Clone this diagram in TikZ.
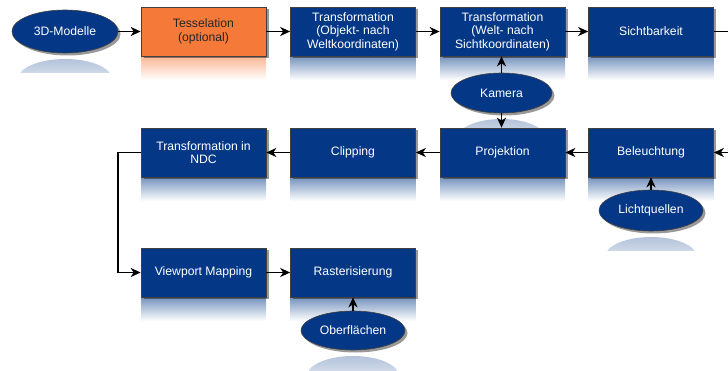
\documentclass[tikz,border=0pt]{standalone}
\usepackage{fontspec}
\setmainfont{Liberation Sans}
\usetikzlibrary{arrows.meta,shadows,shapes.geometric}
\definecolor{boxblue}{RGB}{4,56,135}
\definecolor{boxorange}{RGB}{245,122,58}
\tikzset{
  stepbox/.style={rectangle, draw=black!75, line width=0.6pt, fill=boxblue,
    text=white, minimum width=125pt, minimum height=49pt, inner sep=1pt,
    align=center, font=\fontsize{12.2}{13.5}\selectfont,
    drop shadow={shadow xshift=2.5pt, shadow yshift=-2.5pt, opacity=0.4, fill=black}},
  orangebox/.style={stepbox, fill=boxorange, text=black!85},
  inputell/.style={ellipse, draw=black!75, line width=0.6pt, fill=boxblue,
    text=white, inner sep=0pt, font=\fontsize{12.2}{13.5}\selectfont,
    drop shadow={shadow xshift=2.5pt, shadow yshift=-2.5pt, opacity=0.4, fill=black}},
  flow/.style={draw=black, line width=1.9pt, -{Stealth[length=10pt,width=9pt,inset=3pt]}},
}
\newcommand{\boxrefl}[3]{% center x, bottom y, colour
  \shade[top color=#3!55!white, bottom color=white] (#1-62.5,#2) rectangle (#1+62.5,#2+24);}
\newcommand{\ellrefl}[4]{% center x, top y, width, colour
  \begin{scope}
    \clip (#1-#3/2,#2) rectangle (#1+#3/2,#2+16);
    \shade[top color=#4!30!white, bottom color=white] (#1,#2+22) ellipse ({#3/2-3} and 20);
  \end{scope}}
\begin{document}
\begin{tikzpicture}[x=1pt,y=-1pt]
\useasboundingbox (0,0) rectangle (728,371);
% reflections
\boxrefl{203.5}{56}{boxorange}
\boxrefl{353}{56}{boxblue}
\boxrefl{502.5}{56}{boxblue}
\boxrefl{651}{56}{boxblue}
\boxrefl{203.5}{177}{boxblue}
\boxrefl{353}{177}{boxblue}
\boxrefl{502.5}{177}{boxblue}
\boxrefl{651}{177}{boxblue}
\boxrefl{203.5}{297}{boxblue}
\boxrefl{353}{297}{boxblue}
\ellrefl{65}{57}{100}{boxblue}
\ellrefl{501.5}{117}{96}{boxblue}
\ellrefl{651}{235}{98}{boxblue}
\ellrefl{353}{354}{98}{boxblue}
% nodes
\node[inputell, minimum width=106pt, minimum height=43pt] (m3d) at (65,31.5) {3D-Modelle};
\node[orangebox] (tess) at (203.5,31.5) {Tesselation\\(optional)};
\node[stepbox] (tobj) at (353,31.5) {Transformation\\(Objekt- nach\\Weltkoordinaten)};
\node[stepbox] (twelt) at (502.5,31.5) {Transformation\\(Welt- nach\\Sichtkoordinaten)};
\node[stepbox] (sicht) at (651,31.5) {Sichtbarkeit};
\node[inputell, minimum width=101pt, minimum height=40pt] (kam) at (501.5,93) {Kamera};
\node[stepbox] (ndc) at (203.5,152.5) {Transformation in\\NDC};
\node[stepbox] (clip) at (353,152.5) {Clipping};
\node[stepbox] (proj) at (502.5,152.5) {Projektion};
\node[stepbox] (bel) at (651,152.5) {Beleuchtung};
\node[inputell, minimum width=104pt, minimum height=41pt] (licht) at (651,210.5) {Lichtquellen};
\node[stepbox] (vp) at (203.5,272.5) {Viewport Mapping};
\node[stepbox] (rast) at (353,272.5) {Rasterisierung};
\node[inputell, minimum width=104pt, minimum height=39pt] (ober) at (353,330.5) {Oberfl\"achen};
\coordinate (rtop) at (745,31.5);
\coordinate (rbot) at (745,152.5);
\coordinate (ltop) at (118,152.5);
\coordinate (lbot) at (118,272.5);
% connectors
\draw[flow] (m3d) -- (tess);
\draw[flow] (tess) -- (tobj);
\draw[flow] (tobj) -- (twelt);
\draw[flow] (twelt) -- (sicht);
\draw[flow] (sicht.east) -- (rtop) -- (rbot) -- (bel.east);
\draw[flow] (kam.north) -- (kam.north |- twelt.south);
\draw[flow] (kam.south) -- (kam.south |- proj.north);
\draw[flow] (bel) -- (proj);
\draw[flow] (proj) -- (clip);
\draw[flow] (clip) -- (ndc);
\draw[flow] (ndc.west) -- (ltop) -- (lbot) -- (vp.west);
\draw[flow] (vp) -- (rast);
\draw[flow] (licht) -- (bel);
\draw[flow] (ober) -- (rast);
\end{tikzpicture}
\end{document}
